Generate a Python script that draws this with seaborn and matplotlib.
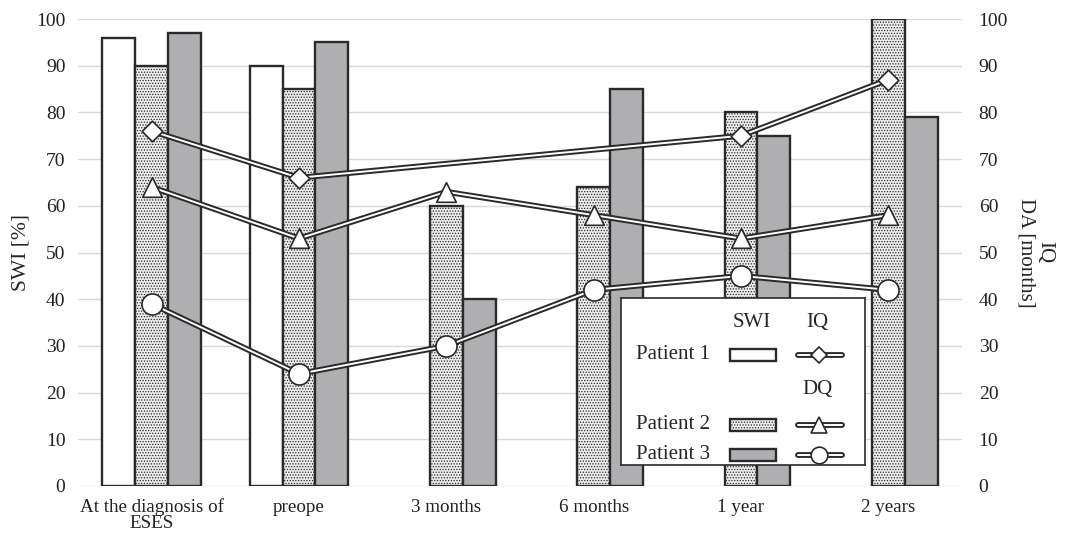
import numpy as np
import pandas as pd
import seaborn as sns
from matplotlib import pyplot as plt
from matplotlib.patches import Rectangle

# data
times = ["At the diagnosis of\nESES", "preope", "3 months", "6 months", "1 year", "2 years"]
patients = ["Patient 1", "Patient 2", "Patient 3"]
swi_p1 = [96, 90, np.nan, np.nan, np.nan, np.nan]
swi_p2 = [90, 85, 60, 64, 80, 100]
swi_p3 = [97, 95, 40, 85, 75, 79]
iq_p1 = [76, 66, np.nan, np.nan, 75, 87]
dq_p2 = [64, 53, 63, 58, 53, 58]
dq_p3 = [39, 24, 30, 42, 45, 42]

sns.set_style("white")
plt.rcParams['font.family'] = ['Liberation Serif', 'DejaVu Serif']
plt.rcParams['font.size'] = 14
plt.rcParams['hatch.color'] = '#b5b5b5'
plt.rcParams['hatch.linewidth'] = 0.6

fills = ["white", "#ececec", "#aeafb2"]
edge = "#2a2a2a"

bars = pd.DataFrame({
    "time": times * 3,
    "patient": [p for p in patients for _ in times],
    "swi": swi_p1 + swi_p2 + swi_p3,
})

fig = plt.figure(figsize=(10.65, 5.34), dpi=100)
ax = fig.add_subplot(111)
fig.subplots_adjust(left=78/1065, right=962/1065, top=1-19/534, bottom=1-486/534)

sns.barplot(data=bars, x="time", y="swi", hue="patient", palette=fills,
            width=0.67, gap=0, edgecolor=edge, linewidth=1.7, legend=False, ax=ax)
for p in ax.containers[1]:
    p.set_hatch("......")

ax.set_ylim(0, 100)
ax.set_xlim(-0.5, 5.5)
ax.set_yticks(range(0, 101, 10))
ax.yaxis.grid(True, color="#d9d9d9", lw=1)
ax.set_axisbelow(True)
ax.set_xlabel("")
ax.set_ylabel("SWI [%]", fontsize=15.5, labelpad=4)
ax.tick_params(axis="y", length=0, pad=9, labelcolor="#222")
ax.tick_params(axis="x", length=0, pad=9, labelcolor="#222", labelsize=13.7)
for lab in ax.get_xticklabels():
    lab.set_linespacing(0.9)
for s in ax.spines.values():
    s.set_visible(False)

# right axis: IQ / DQ lines
ax2 = ax.twinx()
ax2.set_ylim(0, 100)
ax2.set_yticks(range(0, 101, 10))
ax2.tick_params(axis="y", length=0, pad=12, labelcolor="#222")
ax2.set_ylabel("IQ\nDA [months]", rotation=270, fontsize=15, labelpad=33, linespacing=0.95)
for s in ax2.spines.values():
    s.set_visible(False)

pos = np.arange(len(times))
series = [(iq_p1, "D", 110), (dq_p2, "^", 200), (dq_p3, "o", 230)]
for vals, mk, size in series:
    d = pd.DataFrame({"x": pos, "y": vals}).dropna()
    sns.lineplot(data=d, x="x", y="y", color=edge, lw=4.2, sort=False, ax=ax2)
    sns.lineplot(data=d, x="x", y="y", color="white", lw=1.4, sort=False, ax=ax2)
    sns.scatterplot(data=d, x="x", y="y", marker=mk, s=size, color="white",
                    edgecolor=edge, linewidth=1.2, zorder=5, ax=ax2)
ax2.set_xlabel("")
ax2.set_xlim(-0.5, 5.5)

# hand-built legend box
lg = ax2.inset_axes([0.614, 0.045, 0.276, 0.358], zorder=10)
lg.set_xlim(0, 244)
lg.set_ylim(167, 0)
lg.set_xticks([])
lg.set_yticks([])
for s in lg.spines.values():
    s.set_color(edge)
    s.set_linewidth(1.2)
lg.text(131, 25, "SWI", ha="center", va="center", fontsize=15)
lg.text(197, 25, "IQ", ha="center", va="center", fontsize=15)
lg.text(197, 92, "DQ", ha="center", va="center", fontsize=15)
rows = [57, 127, 157]
marks = [("D", 8), ("^", 11), ("o", 12)]
for i, y in enumerate(rows):
    lg.text(52, y, patients[i], ha="center", va="center", fontsize=15)
    r = Rectangle((109, y - 6), 46, 12, facecolor=fills[i], edgecolor=edge, lw=1.7)
    if i == 1:
        r.set_hatch("......")
    lg.add_patch(r)
    lg.plot([177, 221], [y, y], color=edge, lw=4.2)
    lg.plot([177, 221], [y, y], color="white", lw=1.4)
    lg.plot([198], [y], marker=marks[i][0], ms=marks[i][1], mfc="white", mec=edge, mew=1.2)

plt.savefig("out.png", dpi=100)
